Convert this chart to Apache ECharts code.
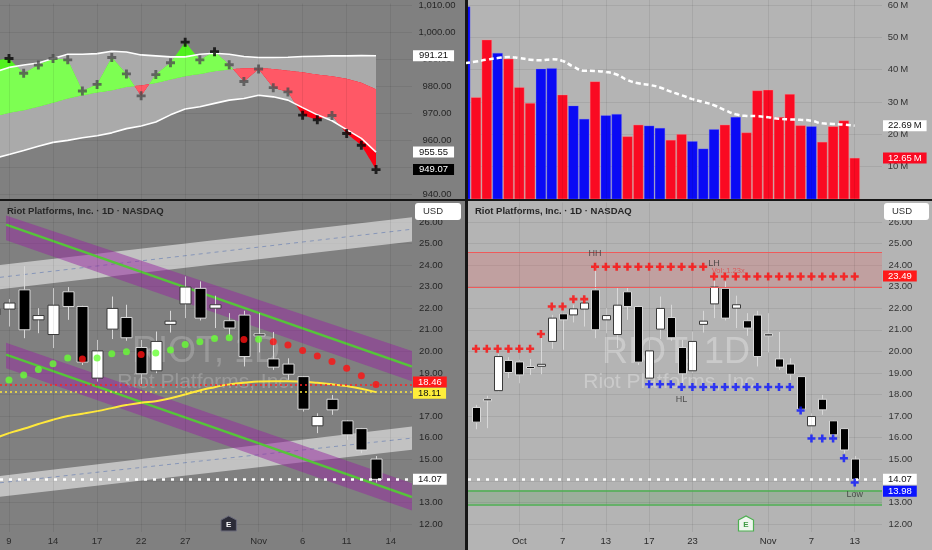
<!DOCTYPE html>
<html>
<head>
<meta charset="utf-8">
<script src="https://cdn.jsdelivr.net/npm/echarts@6/dist/echarts.min.js"></script>
<style>
html,body{margin:0;padding:0;background:#161616;}
#chart{width:932px;height:550px;}
</style>
</head>
<body>
<div id="chart"></div>
<script>
var FONT = '"Liberation Sans", Arial, sans-serif';

// trading days Sep 25 .. Nov 13, the index is the x value on every axis
var days = ['Sep 25','Sep 26','Sep 29','Sep 30','Oct 1','Oct 2','Oct 3','Oct 6','Oct 7','Oct 8','Oct 9','Oct 10','Oct 13','Oct 14','Oct 15','Oct 16','Oct 17','Oct 20','Oct 21','Oct 22','Oct 23','Oct 24','Oct 27','Oct 28','Oct 29','Oct 30','Oct 31','Nov 3','Nov 4','Nov 5','Nov 6','Nov 7','Nov 10','Nov 11','Nov 12','Nov 13'];

var priceOpen  = [17.40,17.80,18.18,19.58,19.51,19.30,19.36,20.46,21.74,21.69,21.96,22.85,21.46,20.78,22.76,22.08,18.76,21.03,21.57,20.18,19.10,21.25,22.20,22.92,22.00,21.42,21.68,20.81,19.65,19.41,18.83,16.55,17.78,16.78,16.42,15.01];
var priceHigh  = [17.52,17.94,19.88,19.73,19.61,19.64,20.69,21.69,21.77,22.16,22.42,23.95,22.00,22.93,22.98,22.11,20.53,22.54,22.16,20.53,20.92,21.88,23.47,23.24,22.58,21.77,21.88,21.77,20.90,19.68,18.86,17.13,17.98,16.82,16.45,15.15];
var priceLow   = [16.39,16.44,18.14,18.76,18.52,18.91,18.94,20.12,20.07,21.34,21.15,20.61,20.84,20.15,21.46,19.37,18.60,20.57,20.49,18.49,18.99,20.87,21.54,21.43,21.08,20.72,19.30,19.95,19.14,18.68,17.21,16.21,17.06,15.90,15.28,13.92];
var priceClose = [16.72,17.77,19.76,19.02,18.91,19.25,19.40,21.54,21.46,21.97,22.24,21.00,21.66,22.14,22.08,19.50,20.02,21.99,20.63,18.96,20.46,21.40,22.98,21.54,22.16,21.08,19.76,20.72,19.27,18.94,17.32,16.98,17.29,16.13,15.43,14.07];

// volume in millions, Sep 24 .. Nov 13 (first entry is the day before the first candle)
var volume   = [59.5,31.4,49.2,45.1,43.3,34.5,29.6,40.2,40.4,32.2,28.8,24.7,36.3,25.8,26.2,19.3,22.9,22.6,21.9,18.2,20.0,17.8,15.5,21.5,22.9,25.3,20.5,33.5,33.7,25.3,32.4,22.7,22.4,17.6,22.4,24.2,12.65];
var volumeMA = [42.0,42.5,43.1,43.6,43.9,43.6,43.1,42.9,43.2,42.7,40.9,39.7,39.6,39.3,38.5,36.8,35.8,35.3,34.5,33.2,32.1,30.9,30.0,29.0,27.5,26.2,25.7,25.6,25.3,24.8,24.6,24.5,24.2,23.4,23.2,23.0,22.69];

// top-left oscillator, Oct 8 .. Nov 13 (day 9 .. 35)
var oscStart = 9;
var oscSignal = [989.5,990.18,984.73,987.76,990.18,989.70,978.18,980.61,990.55,984.48,976.36,984.24,988.61,996.24,989.70,992.73,987.88,981.70,986.30,979.39,977.82,969.21,967.52,969.09,962.42,958.06,949.07];
var oscUpper  = [985.1,986.9,987.76,988.5,990.18,991.76,991.76,992.0,992.85,992.61,991.52,991.15,990.79,990.79,991.76,992.12,991.76,990.91,990.55,990.55,990.67,990.91,991.03,991.15,991.15,991.27,991.21];
var oscLower  = [953.2,954.67,956.12,957.70,959.15,959.88,960.85,961.58,962.67,964.24,965.21,966.67,969.33,971.52,972.36,973.58,974.79,975.39,976.61,976.0,974.79,972.0,969.33,967.15,963.88,960.61,955.55];
var oscBase   = [968.7,970.06,971.03,972.36,973.82,975.39,976.61,977.58,978.42,979.64,980.24,981.09,982.42,983.64,984.48,985.45,986.18,986.55,986.67,986.30,985.70,985.09,984.24,983.64,982.67,981.21,978.79];

// bottom-left overlays
var maStart = 9;
var maYellow = [15.95,16.21,16.41,16.63,16.83,17.0,17.11,17.23,17.37,17.51,17.62,17.69,17.83,18.0,18.19,18.34,18.47,18.54,18.60,18.62,18.62,18.59,18.54,18.48,18.39,18.27,18.11];
var sarStart = 10;
var sarDots = [18.67,18.90,19.16,19.42,19.69,19.65,19.69,19.89,19.98,19.85,19.92,20.06,20.32,20.44,20.60,20.63,20.55,20.56,20.44,20.30,20.04,19.78,19.53,19.22,18.87,18.46];

// trend channels: [day, price] anchors
var fallChannelHigh = {top: [[9.8,26.30],[37.45,20.02]], mid: [[9.8,25.87],[37.45,19.30]], bot: [[9.8,25.15],[37.45,18.62]]};
var fallChannelLow  = {top: [[9.8,20.40],[37.45,13.89]], mid: [[9.8,19.85],[37.45,13.25]], bot: [[9.8,19.22],[37.45,12.63]]};
var riseChannelHigh = {top: [[9.387,24.00],[37.45,26.22]], mid: [[9.387,23.43],[37.45,25.66]], bot: [[9.387,22.88],[37.45,25.09]]};
var riseChannelLow  = {top: [[9.387,14.22],[37.45,16.52]], mid: [[9.387,13.91],[37.45,15.98]], bot: [[9.387,13.26],[37.45,15.44]]};

// bottom-right pivots
var resistance = [20.12,20.12,20.12,20.12,20.12,20.12,20.80,22.08,22.08,22.42,22.42,23.92,23.92,23.92,23.92,23.92,23.92,23.92,23.92,23.92,23.92,23.92,23.47,23.47,23.47,23.47,23.47,23.47,23.47,23.47,23.47,23.47,23.47,23.47,23.47,23.47];
var supportStart = 16;
var support = [18.48,18.48,18.48,18.35,18.35,18.35,18.35,18.35,18.35,18.35,18.35,18.35,18.35,18.35,17.26,15.96,15.96,15.96,15.05,13.92];
var supplyZone = [22.98, 24.60];
var demandZone = [12.91, 13.56];
var lastClose = 14.07;

var leftTicks = [10,13,16,19,22,27,30,33,36];
var leftTickText = ['9','14','17','22','27','Nov','6','11','14'];
var rightTicks = [4,8,12,16,20,27,31,35];
var rightTickText = ['Oct','7','13','17','23','Nov','7','13'];

var PLUS = 'path://M3.4,0H6.6V3.4H10V6.6H6.6V10H3.4V6.6H0V3.4H3.4Z';
var GRIDLINE = 'rgba(0,0,0,0.07)';

function candleData() {
  return days.map(function (d, i) { return [i, priceOpen[i], priceClose[i], priceLow[i], priceHigh[i]]; });
}

function candleRenderer(bodyW) {
  return function (params, api) {
    var x = api.value(0), o = api.value(1), c = api.value(2), l = api.value(3), h = api.value(4);
    var pO = api.coord([x, o]), pC = api.coord([x, c]), pL = api.coord([x, l]), pH = api.coord([x, h]);
    var up = c >= o;
    var top = Math.min(pO[1], pC[1]);
    var bh = Math.max(Math.abs(pO[1] - pC[1]), 2);
    var cx = Math.round(pO[0]) + 0.5;
    return {
      type: 'group',
      children: [
        {type: 'line', shape: {x1: cx, y1: pH[1], x2: cx, y2: pL[1]}, style: {stroke: '#d8d8d8', lineWidth: 1}},
        {type: 'rect', shape: {x: cx - bodyW / 2, y: top, width: bodyW, height: bh},
          style: {fill: up ? '#ffffff' : '#000000', stroke: up ? '#3a3a3a' : '#d8d8d8', lineWidth: 1}}
      ]
    };
  };
}

function renderVolume(params, api) {
  var x = api.value(0), v = api.value(1), up = api.value(2) > 0;
  var p = api.coord([x, v]), p0 = api.coord([x, 0]);
  var w = 9.8;
  return {type: 'rect', shape: {x: p[0] - w / 2, y: p[1], width: w, height: p0[1] - p[1]},
    style: {fill: up ? '#0a0af5' : '#fa0a22', stroke: up ? 'rgba(120,120,255,0.5)' : 'rgba(255,150,150,0.6)', lineWidth: 0.6}};
}

// split the area between curve a and curve b where they swap sides
function splitFill(xs, a, b) {
  var polys = [], topPts = [], botPts = [], sign = null;
  for (var i = 0; i < xs.length; i++) {
    var d = a[i] - b[i];
    var s = d >= 0;
    if (sign !== null && s !== sign) {
      var dp = a[i - 1] - b[i - 1];
      var t = dp / (dp - d);
      var cx = xs[i - 1] + t * (xs[i] - xs[i - 1]);
      var cy = b[i - 1] + t * (b[i] - b[i - 1]);
      topPts.push([cx, cy]);
      polys.push({up: sign, pts: topPts.concat(botPts.reverse())});
      topPts = [[cx, cy]];
      botPts = [];
    }
    sign = s;
    topPts.push([xs[i], a[i]]);
    botPts.push([xs[i], b[i]]);
  }
  polys.push({up: sign, pts: topPts.concat(botPts.reverse())});
  return polys;
}

function renderOsc(params, api) {
  var steps = 10, xs = [], sg = [], bs = [], up = [], lo = [], cl = [];
  for (var i = 0; i < oscSignal.length - 1; i++) {
    for (var k = 0; k < steps; k++) {
      var t = k / steps;
      var s = oscSignal[i] + t * (oscSignal[i + 1] - oscSignal[i]);
      var u = oscUpper[i] + t * (oscUpper[i + 1] - oscUpper[i]);
      var l = oscLower[i] + t * (oscLower[i + 1] - oscLower[i]);
      xs.push(oscStart + i + t); sg.push(s); up.push(u); lo.push(l);
      bs.push(oscBase[i] + t * (oscBase[i + 1] - oscBase[i]));
      cl.push(Math.max(l, Math.min(u, s)));
    }
  }
  var n = oscSignal.length - 1;
  xs.push(oscStart + n); sg.push(oscSignal[n]); up.push(oscUpper[n]); lo.push(oscLower[n]);
  bs.push(oscBase[n]); cl.push(Math.max(oscLower[n], Math.min(oscUpper[n], oscSignal[n])));

  function toPx(pts) { return pts.map(function (p) { return api.coord(p); }); }
  var children = [];
  var band = [];
  for (var j = 0; j < xs.length; j++) band.push([xs[j], up[j]]);
  for (var j2 = xs.length - 1; j2 >= 0; j2--) band.push([xs[j2], lo[j2]]);
  children.push({type: 'polygon', shape: {points: toPx(band)}, style: {fill: '#aaaaaa'}});
  splitFill(xs, sg, bs).forEach(function (p) {
    children.push({type: 'polygon', shape: {points: toPx(p.pts)}, style: {fill: p.up ? '#52f21f' : '#ff0013'}});
  });
  splitFill(xs, cl, bs).forEach(function (p) {
    children.push({type: 'polygon', shape: {points: toPx(p.pts)}, style: {fill: p.up ? '#7dff52' : '#ff5866'}});
  });
  return {type: 'group', children: children};
}

function renderChannels(params, api) {
  function poly(ch, fill) {
    return {type: 'polygon', shape: {points: [api.coord(ch.top[0]), api.coord(ch.top[1]), api.coord(ch.bot[1]), api.coord(ch.bot[0])]}, style: {fill: fill}};
  }
  function seg(line, stroke, w, dash) {
    var a = api.coord(line[0]), b = api.coord(line[1]);
    return {type: 'line', shape: {x1: a[0], y1: a[1], x2: b[0], y2: b[1]}, style: {stroke: stroke, lineWidth: w, lineDash: dash || null}};
  }
  return {
    type: 'group',
    children: [
      poly(riseChannelHigh, 'rgba(255,255,255,0.52)'),
      poly(riseChannelLow, 'rgba(255,255,255,0.52)'),
      seg(riseChannelHigh.mid, '#8796b8', 1, [4, 4]),
      seg(riseChannelLow.mid, '#8796b8', 1, [4, 4]),
      poly(fallChannelHigh, 'rgba(150,38,160,0.5)'),
      poly(fallChannelLow, 'rgba(150,38,160,0.5)'),
      seg(fallChannelHigh.mid, '#56c43a', 2.5),
      seg(fallChannelLow.mid, '#56c43a', 2.5)
    ]
  };
}

function fmtComma(v) { return v.toFixed(2).replace(/\B(?=(\d{3})+(?!\d))/g, ','); }
function onStep(v, step) { return Math.abs(v / step - Math.round(v / step)) < 1e-6; }

function priceBox(value, text, bg, fg, offsetY, pad) {
  var p = pad || 5;
  return {
    yAxis: value,
    lineStyle: {color: 'rgba(0,0,0,0)', width: 0},
    label: {show: true, position: 'end', distance: 1, formatter: text, backgroundColor: bg, color: fg,
      padding: [1, p, 0, p], fontSize: 9.5, fontFamily: FONT, lineHeight: 10, offset: [0, offsetY || 0]}
  };
}
function hLine(value, color, width, dash) {
  return {yAxis: value, lineStyle: {color: color, width: width, type: dash}, label: {show: false}};
}
function vGrid(ticks) {
  return ticks.map(function (t) {
    return {xAxis: t, lineStyle: {color: GRIDLINE, width: 1, type: 'solid'}, label: {show: false}};
  });
}

var splitY = {show: true, showMinLine: false, showMaxLine: false, lineStyle: {color: GRIDLINE, width: 1}};
function xAxisFor(grid, min, max, ticks, texts, showLabels) {
  return {
    type: 'value', gridIndex: grid, min: min, max: max,
    axisLine: {show: false},
    axisTick: {show: false},
    splitLine: {show: false},
    axisLabel: {show: showLabels, customValues: ticks, margin: 4, color: '#2b2b2b', fontSize: 9.5, fontFamily: FONT,
      formatter: function (v) { var k = ticks.indexOf(Math.round(v)); return k < 0 ? '' : texts[k]; }}
  };
}
function yAxisFor(grid, min, max, split, margin, fmt, color) {
  return {
    type: 'value', gridIndex: grid, position: 'right', min: min, max: max, splitNumber: split,
    axisLine: {show: false}, axisTick: {show: false}, splitLine: splitY,
    axisLabel: {margin: margin, align: 'center', color: color, fontSize: 9.5, fontFamily: FONT, formatter: fmt}
  };
}

var volumeBars = volume.map(function (v, i) {
  var d = i - 1;
  var up = d < 0 ? true : priceClose[d] >= priceOpen[d];
  return [d, v, up ? 1 : 0];
});

var sarPoints = sarDots.map(function (v, i) {
  var d = sarStart + i;
  return {value: [d, v], itemStyle: {color: v > priceClose[d] ? '#ff1010' : '#66ff33'}};
});
var oscPoints = oscSignal.map(function (v, i) {
  var out = v > oscUpper[i] || v < oscLower[i];
  return {value: [oscStart + i, v], itemStyle: {color: out ? '#050505' : '#4f4f4f'}};
});
function seriesFrom(start, arr) { return arr.map(function (v, i) { return [start + i, v]; }); }
function last(arr) { return arr[arr.length - 1]; }

var option = {
  animation: false,
  backgroundColor: '#161616',
  textStyle: {fontFamily: FONT},
  grid: [
    {left: 0, top: 0, width: 412, height: 199},
    {left: 468, top: 0, width: 414, height: 199},
    {left: 0, top: 202.5, width: 412, height: 329.5},
    {left: 468, top: 202.5, width: 414, height: 329.5}
  ],
  xAxis: [
    xAxisFor(0, 9.387, 37.45, leftTicks, leftTickText, false),
    xAxisFor(1, -0.74, 37.52, rightTicks, rightTickText, false),
    xAxisFor(2, 9.387, 37.45, leftTicks, leftTickText, true),
    xAxisFor(3, -0.74, 37.52, rightTicks, rightTickText, true)
  ],
  yAxis: [
    yAxisFor(0, 938.18, 1010.545, 7, 25, function (v) { return onStep(v, 10) ? fmtComma(v) : ''; }, '#262626'),
    yAxisFor(1, 0, 61.55, 6, 16, function (v) { return (v > 0 && onStep(v, 10)) ? v + '\u2009M' : ''; }, '#333'),
    yAxisFor(2, 11.629, 26.898, 15, 19, function (v) { return onStep(v, 1) ? v.toFixed(2) : ''; }, '#262626'),
    yAxisFor(3, 11.629, 26.898, 15, 18.5, function (v) { return onStep(v, 1) ? v.toFixed(2) : ''; }, '#333')
  ],
  graphic: [
    {type: 'rect', z: -10, shape: {x: 0, y: 0, width: 465, height: 199}, style: {fill: '#808080'}},
    {type: 'rect', z: -10, shape: {x: 468, y: 0, width: 464, height: 199}, style: {fill: '#b4b4b4'}},
    {type: 'rect', z: -10, shape: {x: 0, y: 201, width: 465, height: 349}, style: {fill: '#808080'}},
    {type: 'rect', z: -10, shape: {x: 468, y: 201, width: 464, height: 349}, style: {fill: '#b4b4b4'}},
    // watermarks
    {type: 'text', z: 1, x: 206, y: 352, style: {text: 'RIOT, 1D', font: '36px ' + FONT, fill: 'rgba(255,255,255,0.2)', align: 'center', verticalAlign: 'middle'}},
    {type: 'text', z: 1, x: 206, y: 382, style: {text: 'Riot Platforms, Inc.', font: '21px ' + FONT, fill: 'rgba(255,255,255,0.2)', align: 'center', verticalAlign: 'middle'}},
    {type: 'text', z: 1, x: 676, y: 353, style: {text: 'RIOT, 1D', font: '36px ' + FONT, fill: 'rgba(255,255,255,0.3)', align: 'center', verticalAlign: 'middle'}},
    {type: 'text', z: 1, x: 672, y: 382, style: {text: 'Riot Platforms, Inc.', font: '21px ' + FONT, fill: 'rgba(255,255,255,0.3)', align: 'center', verticalAlign: 'middle'}},
    // titles
    {type: 'text', z: 100, x: 7, y: 211, style: {text: 'Riot Platforms, Inc. \u00b7 1D \u00b7 NASDAQ', font: 'bold 9.5px ' + FONT, fill: '#262626', verticalAlign: 'middle'}},
    {type: 'text', z: 100, x: 475, y: 211, style: {text: 'Riot Platforms, Inc. \u00b7 1D \u00b7 NASDAQ', font: 'bold 9.5px ' + FONT, fill: '#262626', verticalAlign: 'middle'}},
    // currency buttons
    {type: 'rect', z: 100, shape: {x: 415, y: 203, width: 46, height: 17, r: 3}, style: {fill: '#ffffff'}},
    {type: 'text', z: 101, x: 423, y: 211.5, style: {text: 'USD', font: '9.5px ' + FONT, fill: '#333', verticalAlign: 'middle'}},
    {type: 'rect', z: 100, shape: {x: 884, y: 203, width: 45, height: 17, r: 3}, style: {fill: '#ffffff'}},
    {type: 'text', z: 101, x: 892, y: 211.5, style: {text: 'USD', font: '9.5px ' + FONT, fill: '#333', verticalAlign: 'middle'}},
    // earnings markers
    {type: 'polygon', z: 50, shape: {points: [[221, 520], [228.7, 516], [236.4, 520], [236.4, 531], [221, 531]]}, style: {fill: '#2c2c38', stroke: '#6a6a7a', lineWidth: 1}},
    {type: 'text', z: 51, x: 228.7, y: 525, style: {text: 'E', font: 'bold 8px ' + FONT, fill: '#ffffff', align: 'center', verticalAlign: 'middle'}},
    {type: 'polygon', z: 50, shape: {points: [[738.5, 520], [746, 516], [753.5, 520], [753.5, 531], [738.5, 531]]}, style: {fill: '#eef6ee', stroke: '#4caf50', lineWidth: 1.2}},
    {type: 'text', z: 51, x: 746, y: 525, style: {text: 'E', font: 'bold 8px ' + FONT, fill: '#3d9a41', align: 'center', verticalAlign: 'middle'}}
  ],
  series: [
    // ---- top left oscillator
    {type: 'line', xAxisIndex: 0, yAxisIndex: 0, z: 1, data: [], markLine: {silent: true, symbol: ['none', 'none'], data: vGrid(leftTicks)}},
    {type: 'custom', xAxisIndex: 0, yAxisIndex: 0, clip: true, z: 2, renderItem: renderOsc, data: [[20, 970]], encode: {x: 0, y: 1}},
    {type: 'line', xAxisIndex: 0, yAxisIndex: 0, z: 3, symbol: 'none', data: seriesFrom(oscStart, oscUpper), lineStyle: {color: '#ffffff', width: 1.6}},
    {type: 'line', xAxisIndex: 0, yAxisIndex: 0, z: 3, symbol: 'none', data: seriesFrom(oscStart, oscLower), lineStyle: {color: '#ffffff', width: 1.6}},
    {type: 'scatter', xAxisIndex: 0, yAxisIndex: 0, z: 4, symbol: PLUS, symbolSize: 9, data: oscPoints},
    {type: 'line', xAxisIndex: 0, yAxisIndex: 0, z: 20, clip: false, data: [], markLine: {silent: true, symbol: ['none', 'none'], data: [
      priceBox(last(oscUpper), last(oscUpper).toFixed(2), '#ffffff', '#111', 0, 6),
      priceBox(last(oscLower), last(oscLower).toFixed(2), '#ffffff', '#111', 0, 6),
      priceBox(last(oscSignal), last(oscSignal).toFixed(2), '#000000', '#fff', 0, 6)
    ]}},

    // ---- top right volume
    {type: 'line', xAxisIndex: 1, yAxisIndex: 1, z: 1, data: [], markLine: {silent: true, symbol: ['none', 'none'], data: vGrid(rightTicks)}},
    {type: 'custom', xAxisIndex: 1, yAxisIndex: 1, clip: true, z: 2, renderItem: renderVolume, data: volumeBars, encode: {x: 0, y: 1}},
    {type: 'line', xAxisIndex: 1, yAxisIndex: 1, z: 3, symbol: 'none', smooth: true, data: seriesFrom(-1, volumeMA),
      lineStyle: {color: '#ffffff', width: 2.5, type: [5, 3]}},
    {type: 'line', xAxisIndex: 1, yAxisIndex: 1, z: 20, clip: false, data: [], markLine: {silent: true, symbol: ['none', 'none'], data: [
      priceBox(last(volumeMA), last(volumeMA).toFixed(2) + '\u2009M', '#ffffff', '#111'),
      priceBox(last(volume), last(volume).toFixed(2) + '\u2009M', '#fa0a22', '#fff')
    ]}},

    // ---- bottom left price
    {type: 'line', xAxisIndex: 2, yAxisIndex: 2, z: 1, data: [], markLine: {silent: true, symbol: ['none', 'none'], data: vGrid(leftTicks)}},
    {type: 'custom', xAxisIndex: 2, yAxisIndex: 2, clip: true, z: 2, renderItem: renderChannels, data: [[20, 20]], encode: {x: 0, y: 1}},
    {type: 'line', xAxisIndex: 2, yAxisIndex: 2, z: 3, symbol: 'none', smooth: true, data: seriesFrom(maStart, maYellow), lineStyle: {color: '#ffe83b', width: 2}},
    {type: 'line', xAxisIndex: 2, yAxisIndex: 2, z: 3, data: [], markLine: {silent: true, symbol: ['none', 'none'], data: [
      hLine(last(sarDots), '#ff2020', 1.5, [2, 3]),
      hLine(last(maYellow), '#ffe83b', 1.5, [2, 3]),
      hLine(lastClose, '#ffffff', 2.5, [3, 6])
    ]}},
    {type: 'custom', xAxisIndex: 2, yAxisIndex: 2, clip: true, z: 4, renderItem: candleRenderer(11), data: candleData(), encode: {x: 0, y: [1, 2, 3, 4]}},
    {type: 'scatter', xAxisIndex: 2, yAxisIndex: 2, z: 5, symbolSize: 7, data: sarPoints},
    {type: 'line', xAxisIndex: 2, yAxisIndex: 2, z: 20, clip: false, data: [], markLine: {silent: true, symbol: ['none', 'none'], data: [
      priceBox(last(sarDots), last(sarDots).toFixed(2), '#ff1a1a', '#fff', -2.5),
      priceBox(last(maYellow), last(maYellow).toFixed(2), '#ffee3a', '#111', 1),
      priceBox(lastClose, lastClose.toFixed(2), '#ffffff', '#111')
    ]}},

    // ---- bottom right price
    {type: 'line', xAxisIndex: 3, yAxisIndex: 3, z: 1, data: [],
      markArea: {silent: true, data: [
        [{yAxis: supplyZone[0], itemStyle: {color: 'rgba(235,90,90,0.22)'}}, {yAxis: supplyZone[1]}],
        [{yAxis: demandZone[0], itemStyle: {color: 'rgba(60,150,60,0.2)'}}, {yAxis: demandZone[1]}]
      ]},
      markLine: {silent: true, symbol: ['none', 'none'], data: vGrid(rightTicks).concat([
        hLine(supplyZone[0], '#ee5a5a', 1, 'solid'),
        hLine(supplyZone[1], '#ee5a5a', 1, 'solid'),
        hLine(demandZone[0], '#4caf50', 1.5, 'solid'),
        hLine(demandZone[1], '#4caf50', 1.5, 'solid'),
        hLine(lastClose, '#ffffff', 2.5, [3, 6])
      ])}},
    {type: 'custom', xAxisIndex: 3, yAxisIndex: 3, clip: true, z: 4, renderItem: candleRenderer(8), data: candleData(), encode: {x: 0, y: [1, 2, 3, 4]}},
    {type: 'scatter', xAxisIndex: 3, yAxisIndex: 3, z: 5, symbol: PLUS, symbolSize: 8, itemStyle: {color: '#ff0a0a'}, data: seriesFrom(0, resistance)},
    {type: 'scatter', xAxisIndex: 3, yAxisIndex: 3, z: 5, symbol: PLUS, symbolSize: 8, itemStyle: {color: '#0a14ff'}, data: seriesFrom(supportStart, support)},
    {type: 'scatter', xAxisIndex: 3, yAxisIndex: 3, z: 6, symbolSize: 0, silent: true,
      label: {show: true, position: 'inside', fontSize: 9, fontFamily: FONT, color: '#333'},
      data: [
        {value: [11, resistance[11]], label: {formatter: 'HH', offset: [0, -13]}},
        {value: [22, resistance[22]], label: {formatter: 'LH', offset: [0, -13]}},
        {value: [22.01, resistance[22]], label: {formatter: 'Vol: 1.23x', offset: [14, -6], fontSize: 7.5, color: '#e04848'}},
        {value: [19, support[19 - supportStart]], label: {formatter: 'HL', offset: [0, 13]}},
        {value: [35, support[35 - supportStart]], label: {formatter: 'Low', offset: [0, 12]}}
      ]},
    {type: 'line', xAxisIndex: 3, yAxisIndex: 3, z: 20, clip: false, data: [], markLine: {silent: true, symbol: ['none', 'none'], data: [
      priceBox(last(resistance) + 0.02, '23.49', '#ff1a1a', '#fff'),
      priceBox(lastClose, lastClose.toFixed(2), '#ffffff', '#111'),
      priceBox(13.98, '13.98', '#0a14ff', '#fff', 10)
    ]}}
  ]
};

var chart = echarts.init(document.getElementById('chart'));
chart.setOption(option);
</script>
</body>
</html>
